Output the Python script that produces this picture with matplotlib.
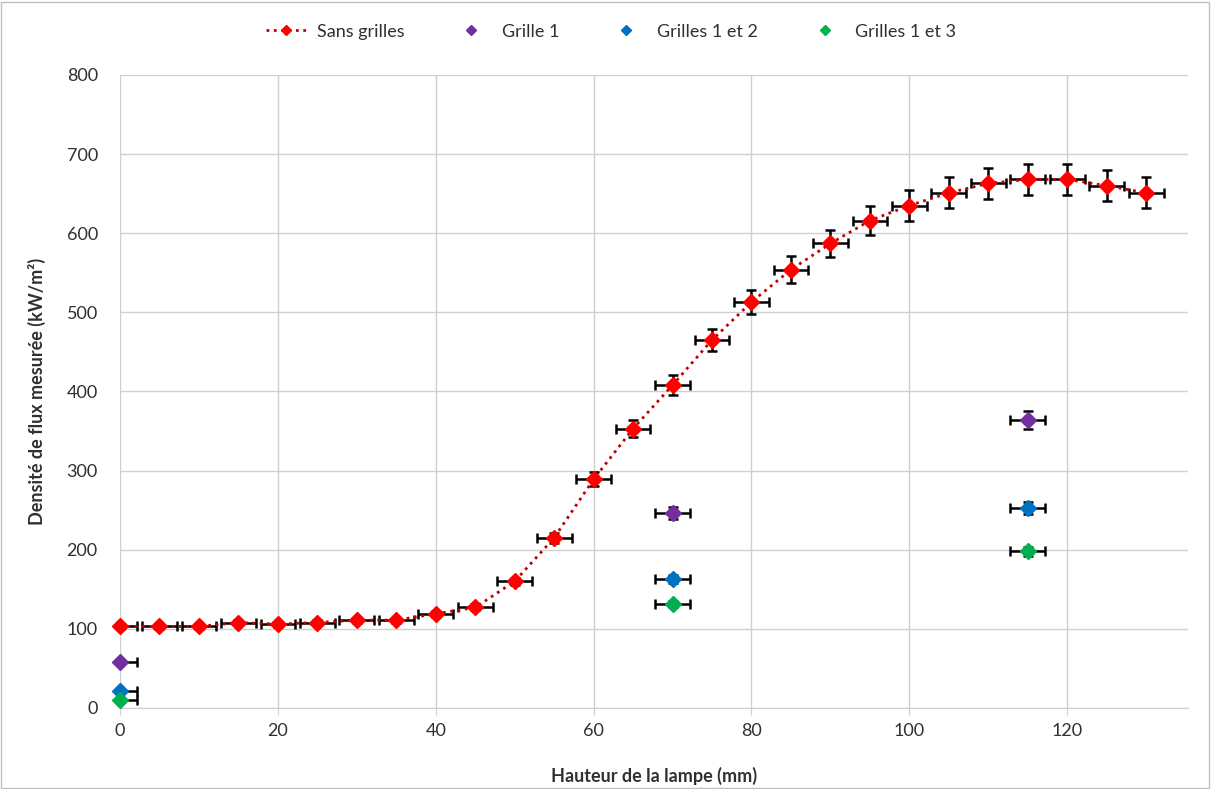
import matplotlib.pyplot as plt
from matplotlib.patches import Rectangle

plt.rcParams['font.family'] = ['Lato', 'DejaVu Sans']

# hauteur de la lampe (mm) et densite de flux (kW/m2)
hauteur = [0, 5, 10, 15, 20, 25, 30, 35, 40, 45, 50, 55, 60, 65,
           70, 75, 80, 85, 90, 95, 100, 105, 110, 115, 120, 125, 130]
sans_grilles = [103, 103, 103, 108, 106, 108, 111, 111, 119, 127, 160, 215, 289, 353,
                408, 465, 513, 554, 587, 616, 635, 651, 663, 668, 668, 660, 651]

hauteur_grilles = [0, 70, 115]
grille_1 = [58, 246, 364]
grilles_1_2 = [21, 163, 253]
grilles_1_3 = [10, 131, 198]

# incertitudes
err_x = 2.2
err_y_rel = 0.03

fig = plt.figure(figsize=(12.11, 7.89), dpi=100)
ax = fig.add_axes([0.0991, 0.1027, 0.8819, 0.8023])

ek = dict(ecolor='black', elinewidth=1.8, capsize=3.5, capthick=1.8, zorder=3)

ax.errorbar(hauteur, sans_grilles, xerr=err_x, yerr=[v * err_y_rel for v in sans_grilles],
            fmt='none', **ek)
ax.plot(hauteur, sans_grilles, linestyle=':', color='#C00000', linewidth=2,
        marker='D', markersize=8, markerfacecolor='#FF0000', markeredgecolor='#FF0000',
        label='Sans grilles', zorder=4, clip_on=False)

series = [(grille_1, '#7030A0', 'Grille 1'),
          (grilles_1_2, '#0070C0', 'Grilles 1 et 2'),
          (grilles_1_3, '#00B050', 'Grilles 1 et 3')]
for vals, col, lab in series:
    ax.errorbar(hauteur_grilles, vals, xerr=err_x, yerr=[v * err_y_rel for v in vals],
                fmt='none', **ek)
    ax.plot(hauteur_grilles, vals, linestyle='none', marker='D', markersize=8,
            markerfacecolor=col, markeredgecolor=col, label=lab, zorder=4, clip_on=False)

ax.set_xlim(0, 135.3)
ax.set_ylim(0, 800)
ax.set_xticks(range(0, 121, 20))
ax.set_yticks(range(0, 801, 100))
ax.grid(True, color='#D0D0D0', linewidth=1)
ax.set_axisbelow(True)
for s in ['top', 'right', 'left']:
    ax.spines[s].set_visible(False)
ax.spines['bottom'].set_color('#D0D0D0')
ax.tick_params(axis='x', length=5, color='#D0D0D0', labelsize=13, labelcolor='#303030', pad=6)
ax.tick_params(axis='y', length=0, labelsize=13, labelcolor='#303030', pad=16)

ax.set_xlabel('Hauteur de la lampe (mm)', fontsize=13, fontweight='bold', color='#303030', labelpad=20)
ax.set_ylabel('Densité de flux mesurée (kW/m²)', fontsize=13, fontweight='bold', color='#303030', labelpad=15)

leg = ax.legend(loc='lower center', bbox_to_anchor=(0.46, 1.03), ncol=4, frameon=False,
                fontsize=13, handlelength=2.2, handletextpad=0.6, columnspacing=2.6,
                markerscale=0.65)
for t in leg.get_texts():
    t.set_color('#303030')

# cadre du graphique
fig.patches.append(Rectangle((0.001, 0.001), 0.997, 0.997, transform=fig.transFigure,
                             fill=False, edgecolor='#BFBFBF', linewidth=1))

fig.savefig('out.png', dpi=100)
